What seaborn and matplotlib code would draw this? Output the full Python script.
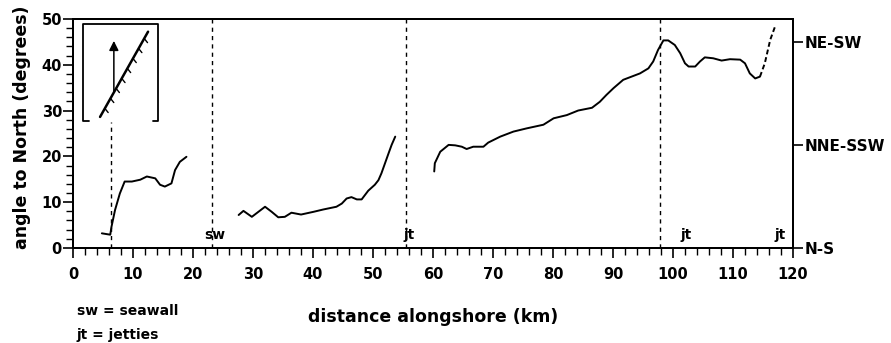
import numpy as np
import pandas as pd
import matplotlib
matplotlib.use("Agg")
import matplotlib.pyplot as plt
import seaborn as sns

# shoreline angle segments (km, degrees)
seg1_x = [4.8, 6.2, 6.4, 7.0, 7.8, 8.6, 9.8, 11.2, 12.3, 13.7, 14.5, 15.3, 16.4, 17.0, 17.8, 18.9]
seg1_y = [3.2, 2.9, 4.6, 8.3, 11.9, 14.5, 14.5, 14.9, 15.6, 15.2, 13.8, 13.4, 14.1, 17.0, 18.8, 19.9]

seg2_x = [27.6, 28.4, 29.8, 30.9, 32.0, 33.1, 34.2, 35.3, 36.4, 38.0, 40.1, 41.7, 43.9, 44.8,
          45.6, 46.4, 47.3, 48.1, 49.2, 50.3, 50.9, 51.4, 52.0, 52.6, 53.1, 53.7]
seg2_y = [7.2, 8.1, 6.8, 7.9, 9.0, 7.9, 6.7, 6.8, 7.7, 7.3, 7.9, 8.4, 9.0, 9.7,
          10.8, 11.1, 10.6, 10.6, 12.5, 13.8, 14.8, 16.3, 18.5, 20.7, 22.5, 24.3]

seg3_x = [60.2, 60.3, 61.2, 62.6, 63.7, 64.8, 65.6, 66.7, 68.4, 69.2, 71.2, 73.4, 75.6, 78.4,
          80.1, 82.3, 84.2, 86.5, 87.8, 88.9, 90.1, 91.7, 93.1, 94.5, 95.9, 96.7, 97.5, 98.4,
          99.2, 100.3, 101.2, 102.0, 102.6, 103.7, 104.5, 105.3, 106.7, 108.1, 109.5, 111.2,
          112.0, 112.8, 113.7, 114.5]
seg3_y = [16.7, 18.5, 21.0, 22.5, 22.4, 22.1, 21.6, 22.1, 22.1, 23.0, 24.3, 25.4, 26.1, 26.9,
          28.3, 29.0, 30.0, 30.6, 31.9, 33.4, 34.9, 36.7, 37.4, 38.1, 39.2, 40.7, 43.2, 45.3,
          45.3, 44.3, 42.5, 40.3, 39.6, 39.6, 40.7, 41.6, 41.4, 40.9, 41.2, 41.1,
          40.3, 38.1, 37.0, 37.4]

# last stretch drawn dashed
seg4_x = [114.5, 115.3, 116.2, 117.0]
seg4_y = [37.4, 40.3, 45.4, 48.3]

# structures along the coast
struct_x = [23.2, 55.5, 97.9]
struct_lbl_x = [23.7, 56.0, 102.2, 117.8]
struct_lbl = ["sw", "jt", "jt", "jt"]

right_ticks = [0, 22.5, 45]
right_labels = ["N-S", "NNE-SSW", "NE-SW"]

sns.set_theme(style="ticks")
plt.rcParams["font.family"] = ["DejaVu Sans"]
plt.rcParams["font.weight"] = "bold"
plt.rcParams["text.color"] = "black"
plt.rcParams["axes.labelcolor"] = "black"
plt.rcParams["xtick.color"] = "black"
plt.rcParams["ytick.color"] = "black"

fig = plt.figure(figsize=(8.91, 3.43), dpi=100)
ax = fig.add_axes([0.082, 0.277, 0.808, 0.668])

for xs, ys in [(seg1_x, seg1_y), (seg2_x, seg2_y), (seg3_x, seg3_y)]:
    df = pd.DataFrame({"x": xs, "y": ys})
    sns.lineplot(data=df, x="x", y="y", ax=ax, color="black", lw=1.4,
                 sort=False, estimator=None)
df4 = pd.DataFrame({"x": seg4_x, "y": seg4_y})
sns.lineplot(data=df4, x="x", y="y", ax=ax, color="black", lw=1.4,
             sort=False, estimator=None, linestyle=(0, (2.5, 1.5)))

for xv in struct_x:
    ax.axvline(xv, color="black", lw=1.0, ls=(0, (3, 3)))
ax.plot([6.4, 6.4], [0, 27.5], color="black", lw=1.0, ls=(0, (3, 3)))

for xv, t in zip(struct_lbl_x, struct_lbl):
    ax.text(xv, 1.2, t, ha="center", va="bottom", fontsize=10, fontweight="bold")

# inset sketch: shoreline orientation relative to north
bx0, bx1, by0, by1 = 1.7, 14.2, 27.7, 48.9
ax.plot([bx0 + 0.9, bx0, bx0, bx1, bx1, bx1 - 0.9],
        [by0, by0, by1, by1, by0, by0], color="black", lw=1.3)
lx = np.array([4.5, 12.5])
ly = np.array([28.6, 47.2])
ax.plot(lx, ly, color="black", lw=1.8)
for f in np.linspace(0.1, 0.92, 8):
    px = lx[0] + f * (lx[1] - lx[0])
    py = ly[0] + f * (ly[1] - ly[0])
    ax.plot([px, px + 0.55], [py, py - 0.9], color="black", lw=1.0)
ax.annotate("", xy=(6.8, 45.8), xytext=(6.8, 33.5),
            arrowprops=dict(arrowstyle="-|>", color="black", lw=1.1,
                            mutation_scale=14))

ax.set_xlim(0, 120)
ax.set_ylim(0, 50)
ax.set_xticks(np.arange(0, 121, 10))
ax.set_xticks(np.arange(0, 121, 2), minor=True)
ax.set_yticks(np.arange(0, 51, 10))
ax.set_yticks(np.arange(0, 51, 2), minor=True)
ax.tick_params(which="major", length=7, width=1.2, labelsize=10.5, direction="out")
ax.tick_params(axis="x", which="major", pad=7)
ax.tick_params(axis="y", which="major", pad=1)
ax.tick_params(which="minor", length=5, width=1.0, direction="out")
for s in ax.spines.values():
    s.set_linewidth(1.4)
    s.set_color("black")
ax.set_xlabel("distance alongshore (km)", fontsize=12.5, fontweight="bold")
ax.set_ylabel("angle to North (degrees)", fontsize=12.5, fontweight="bold")
ax.xaxis.set_label_coords(0.5, -0.262)
ax.yaxis.set_label_coords(-0.058, 0.525)

ax2 = ax.twinx()
ax2.set_ylim(0, 50)
ax2.set_yticks(right_ticks)
ax2.set_yticklabels(right_labels, fontsize=11, fontweight="bold")
ax2.tick_params(length=7, width=1.2, direction="out", pad=1.5)
for s in ax2.spines.values():
    s.set_linewidth(1.4)
    s.set_color("black")

fig.text(0.086, 0.093, "sw = seawall", fontsize=10, fontweight="bold", va="center")
fig.text(0.086, 0.023, "jt = jetties", fontsize=10, fontweight="bold", va="center")

fig.savefig("out.png", dpi=100)
